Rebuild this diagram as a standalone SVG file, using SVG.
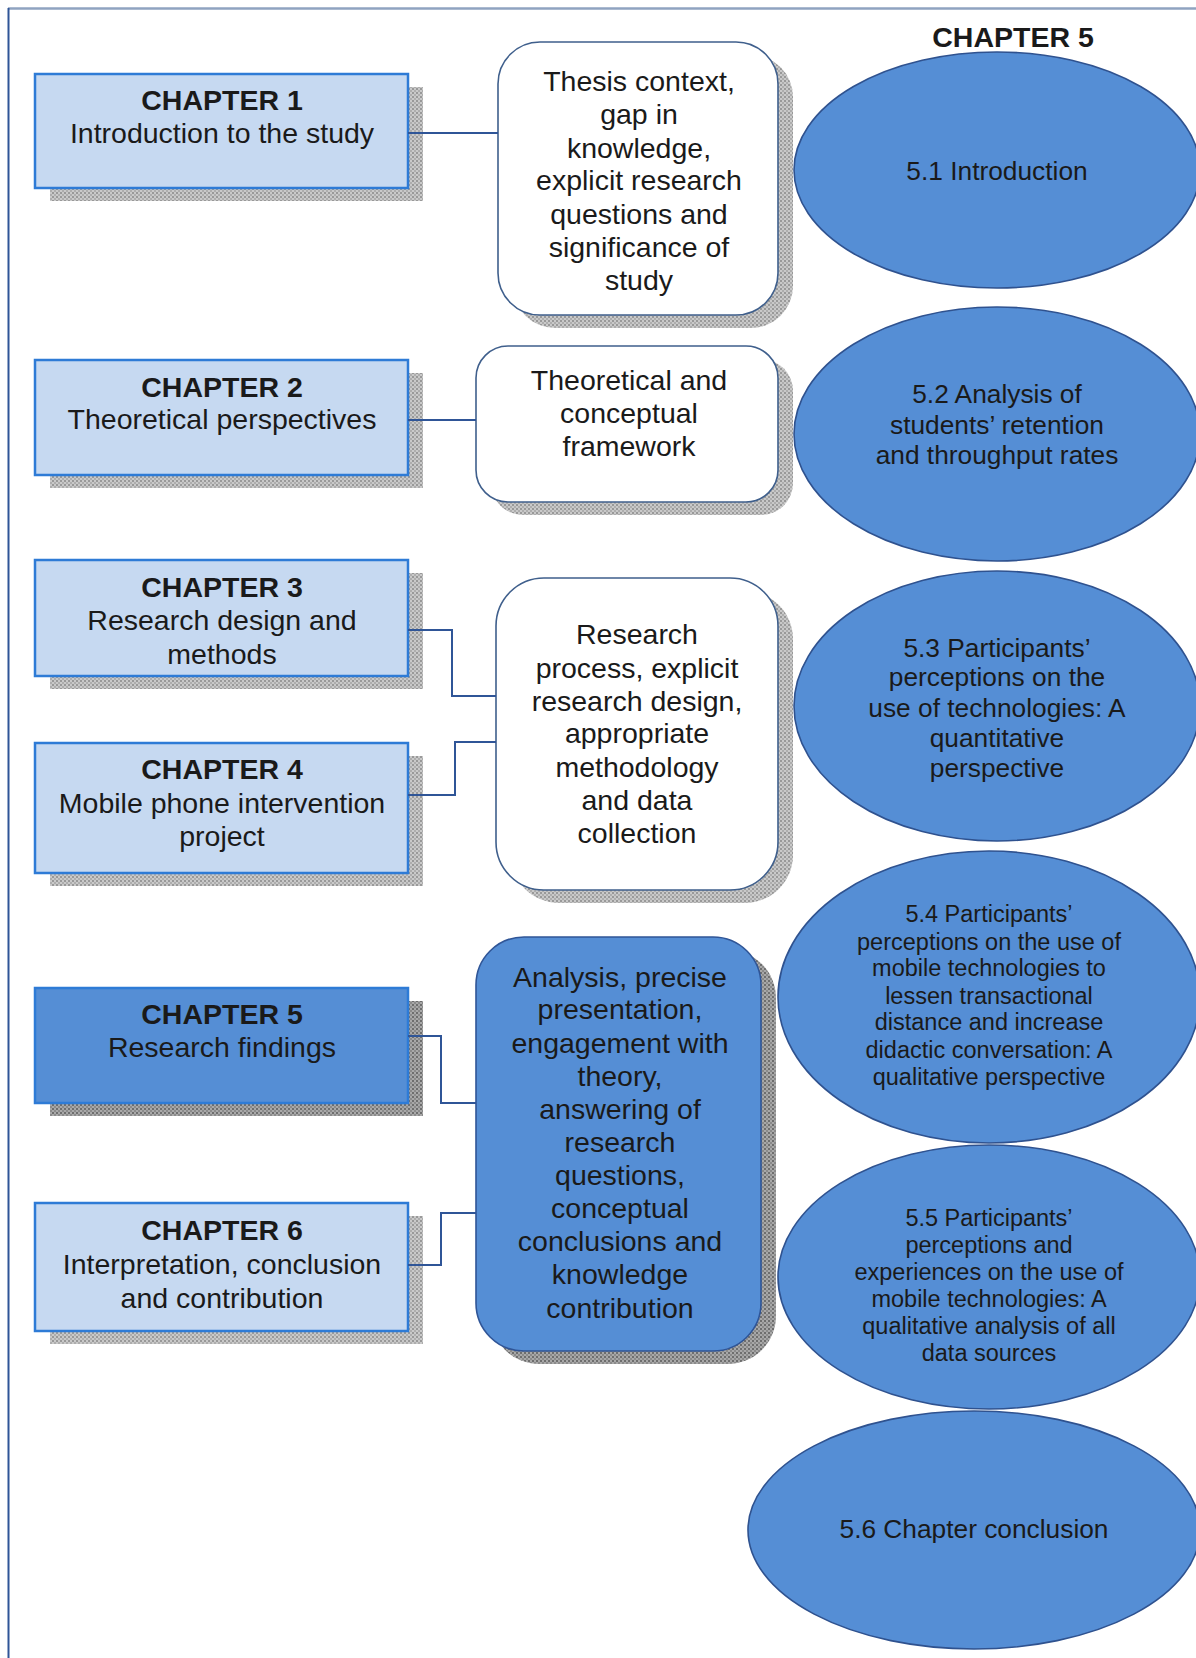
<svg xmlns="http://www.w3.org/2000/svg" width="1196" height="1658" viewBox="0 0 1196 1658">
<defs>
<pattern id="hatch" width="4" height="4" patternUnits="userSpaceOnUse">
<rect width="4" height="4" fill="#c9c9c9"/>
<rect width="2" height="2" fill="#999999"/>
<rect x="2" y="2" width="2" height="2" fill="#adadad"/>
</pattern>
<pattern id="hatchDark" width="4" height="4" patternUnits="userSpaceOnUse">
<rect width="4" height="4" fill="#a8a8a8"/>
<rect width="2" height="2" fill="#6e6e6e"/>
<rect x="2" y="2" width="2" height="2" fill="#8a8a8a"/>
</pattern>
</defs>
<style>
.ch{fill:#c6d9f1;stroke:#2e7bd6;stroke-width:2.5}
.chd{fill:#558ed5;stroke:#2e7bd6;stroke-width:2.5}
.sh{fill:url(#hatch)}
.shd{fill:url(#hatchDark)}
.mid{fill:#ffffff;stroke:#3f5f8c;stroke-width:1.6}
.midb{fill:#558ed5;stroke:#2f5597;stroke-width:1.6}
.ell{fill:#558ed5;stroke:#2f528f;stroke-width:1.6}
.t{font-family:"Liberation Sans",Arial,sans-serif;font-size:28.5px;fill:#1a1a1a;text-anchor:middle}
.b{font-weight:bold}
.e{font-family:"Liberation Sans",Arial,sans-serif;font-size:26.3px;fill:#1a1a1a;text-anchor:middle}
.s{font-family:"Liberation Sans",Arial,sans-serif;font-size:23.5px;fill:#1a1a1a;text-anchor:middle}
.cn{fill:none;stroke:#2f5597;stroke-width:2}
</style>
<rect width="1196" height="1658" fill="#ffffff"/>
<g id="frame">
<line x1="8" y1="8.5" x2="1196" y2="8.5" stroke="#8fa3c0" stroke-width="2.5"/>
<line x1="8.5" y1="8" x2="8.5" y2="1658" stroke="#2f5597" stroke-width="2"/>
</g>
<g id="ch1">
<rect class="sh" x="50" y="87" width="373" height="114"/>
<rect class="ch" x="35" y="74" width="373" height="114"/>
<text class="t b" x="222" y="110">CHAPTER 1</text>
<text class="t" x="222" y="143">Introduction to the study</text>
</g>
<g id="ch2">
<rect class="sh" x="50" y="373" width="373" height="115"/>
<rect class="ch" x="35" y="360" width="373" height="115"/>
<text class="t b" x="222" y="397">CHAPTER 2</text>
<text class="t" x="222" y="429">Theoretical perspectives</text>
</g>
<g id="ch3">
<rect class="sh" x="50" y="573" width="373" height="116"/>
<rect class="ch" x="35" y="560" width="373" height="116"/>
<text class="t b" x="222" y="597">CHAPTER 3</text>
<text class="t" x="222" y="630">Research design and</text>
<text class="t" x="222" y="664">methods</text>
</g>
<g id="ch4">
<rect class="sh" x="50" y="756" width="373" height="130"/>
<rect class="ch" x="35" y="743" width="373" height="130"/>
<text class="t b" x="222" y="779">CHAPTER 4</text>
<text class="t" x="222" y="813">Mobile phone intervention</text>
<text class="t" x="222" y="846">project</text>
</g>
<g id="ch5">
<rect class="shd" x="50" y="1001" width="373" height="115"/>
<rect class="chd" x="35" y="988" width="373" height="115"/>
<text class="t b" x="222" y="1024">CHAPTER 5</text>
<text class="t" x="222" y="1057">Research findings</text>
</g>
<g id="ch6">
<rect class="sh" x="50" y="1216" width="373" height="128"/>
<rect class="ch" x="35" y="1203" width="373" height="128"/>
<text class="t b" x="222" y="1240">CHAPTER 6</text>
<text class="t" x="222" y="1274">Interpretation, conclusion</text>
<text class="t" x="222" y="1308">and contribution</text>
</g>
<g id="m1">
<rect class="sh" x="513" y="55" width="280" height="273" rx="42"/>
<rect class="mid" x="498" y="42" width="280" height="273" rx="42"/>
<text class="t" x="639" y="91">Thesis context,</text>
<text class="t" x="639" y="124">gap in</text>
<text class="t" x="639" y="158">knowledge,</text>
<text class="t" x="639" y="190">explicit research</text>
<text class="t" x="639" y="224">questions and</text>
<text class="t" x="639" y="257">significance of</text>
<text class="t" x="639" y="290">study</text>
</g>
<g id="m2">
<rect class="sh" x="491" y="359" width="302" height="156" rx="32"/>
<rect class="mid" x="476" y="346" width="302" height="156" rx="32"/>
<text class="t" x="629" y="390">Theoretical and</text>
<text class="t" x="629" y="423">conceptual</text>
<text class="t" x="629" y="456">framework</text>
</g>
<g id="m3">
<rect class="sh" x="511" y="591" width="282" height="312" rx="48"/>
<rect class="mid" x="496" y="578" width="282" height="312" rx="48"/>
<text class="t" x="637" y="644">Research</text>
<text class="t" x="637" y="678">process, explicit</text>
<text class="t" x="637" y="711">research design,</text>
<text class="t" x="637" y="743">appropriate</text>
<text class="t" x="637" y="777">methodology</text>
<text class="t" x="637" y="810">and data</text>
<text class="t" x="637" y="843">collection</text>
</g>
<g id="m4">
<rect class="shd" x="491" y="950" width="285" height="414" rx="48"/>
<rect class="midb" x="476" y="937" width="285" height="414" rx="48"/>
<text class="t" x="620" y="987">Analysis, precise</text>
<text class="t" x="620" y="1019">presentation,</text>
<text class="t" x="620" y="1053">engagement with</text>
<text class="t" x="620" y="1086">theory,</text>
<text class="t" x="620" y="1119">answering of</text>
<text class="t" x="620" y="1152">research</text>
<text class="t" x="620" y="1185">questions,</text>
<text class="t" x="620" y="1218">conceptual</text>
<text class="t" x="620" y="1251">conclusions and</text>
<text class="t" x="620" y="1284">knowledge</text>
<text class="t" x="620" y="1318">contribution</text>
</g>
<g id="header">
<text class="t b" x="1013" y="47">CHAPTER 5</text>
</g>
<g id="e1">
<ellipse class="ell" cx="997" cy="170" rx="203" ry="118"/>
<text class="e" x="997" y="180">5.1 Introduction</text>
</g>
<g id="e2">
<ellipse class="ell" cx="997" cy="434" rx="203" ry="127"/>
<text class="e" x="997" y="403">5.2 Analysis of</text>
<text class="e" x="997" y="434">students’ retention</text>
<text class="e" x="997" y="464">and throughput rates</text>
</g>
<g id="e3">
<ellipse class="ell" cx="997" cy="706" rx="203" ry="135"/>
<text class="e" x="997" y="657">5.3 Participants’</text>
<text class="e" x="997" y="686">perceptions on the</text>
<text class="e" x="997" y="717">use of technologies: A</text>
<text class="e" x="997" y="747">quantitative</text>
<text class="e" x="997" y="777">perspective</text>
</g>
<g id="e4">
<ellipse class="ell" cx="989" cy="997" rx="211" ry="146"/>
<text class="s" x="989" y="922">5.4 Participants’</text>
<text class="s" x="989" y="950">perceptions on the use of</text>
<text class="s" x="989" y="976">mobile technologies to</text>
<text class="s" x="989" y="1004">lessen transactional</text>
<text class="s" x="989" y="1030">distance and increase</text>
<text class="s" x="989" y="1058">didactic conversation: A</text>
<text class="s" x="989" y="1085">qualitative perspective</text>
</g>
<g id="e5">
<ellipse class="ell" cx="989" cy="1277" rx="211" ry="132"/>
<text class="s" x="989" y="1226">5.5 Participants’</text>
<text class="s" x="989" y="1253">perceptions and</text>
<text class="s" x="989" y="1280">experiences on the use of</text>
<text class="s" x="989" y="1307">mobile technologies: A</text>
<text class="s" x="989" y="1334">qualitative analysis of all</text>
<text class="s" x="989" y="1361">data sources</text>
</g>
<g id="e6">
<ellipse class="ell" cx="974" cy="1530" rx="226" ry="119"/>
<text class="e" x="974" y="1538">5.6 Chapter conclusion</text>
</g>
<g id="connectors">
<path class="cn" d="M408,133 H498"/>
<path class="cn" d="M408,420 H476"/>
<path class="cn" d="M408,630 H452 V696 H496"/>
<path class="cn" d="M408,795 H455 V742 H496"/>
<path class="cn" d="M408,1036 H441 V1103 H476"/>
<path class="cn" d="M408,1265 H441 V1213 H476"/>
</g>
</svg>
